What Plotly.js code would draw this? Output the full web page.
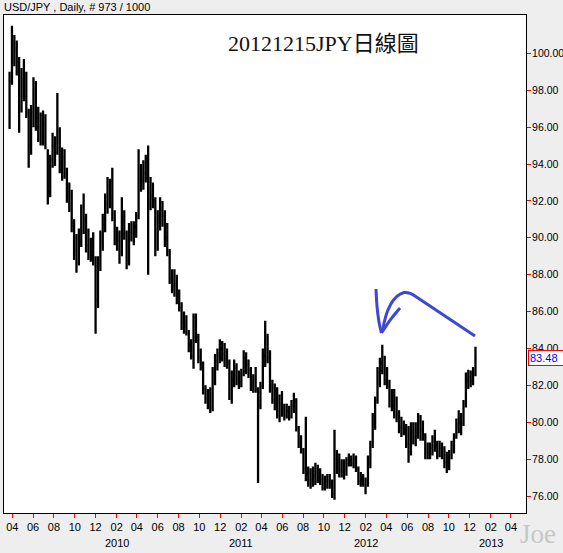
<!DOCTYPE html>
<html>
<head>
<meta charset="utf-8">
<script src="https://cdn.plot.ly/plotly-3.0.1.min.js"></script>
<style>
html,body{margin:0;padding:0;background:#eeeeee;}
#chart{width:563px;height:553px;}
</style>
</head>
<body>
<div id="chart"></div>
<script>
// Weekly OHLC readings of USD/JPY
var dates = [
'2009-03-24','2009-03-31','2009-04-07','2009-04-14','2009-04-21','2009-04-28','2009-05-05','2009-05-12','2009-05-19','2009-05-26',
'2009-06-02','2009-06-09','2009-06-16','2009-06-23','2009-06-30','2009-07-07','2009-07-14','2009-07-21','2009-07-28','2009-08-04',
'2009-08-11','2009-08-18','2009-08-25','2009-09-01','2009-09-08','2009-09-15','2009-09-22','2009-09-29','2009-10-06','2009-10-13',
'2009-10-20','2009-10-27','2009-11-03','2009-11-10','2009-11-17','2009-11-24','2009-12-01','2009-12-08','2009-12-15','2009-12-22',
'2009-12-29','2010-01-05','2010-01-12','2010-01-19','2010-01-26','2010-02-02','2010-02-09','2010-02-16','2010-02-23','2010-03-02',
'2010-03-09','2010-03-16','2010-03-23','2010-03-30','2010-04-06','2010-04-13','2010-04-20','2010-04-27','2010-05-04','2010-05-11',
'2010-05-18','2010-05-25','2010-06-01','2010-06-08','2010-06-15','2010-06-22','2010-06-29','2010-07-06','2010-07-13','2010-07-20',
'2010-07-27','2010-08-03','2010-08-10','2010-08-17','2010-08-24','2010-08-31','2010-09-07','2010-09-14','2010-09-21','2010-09-28',
'2010-10-05','2010-10-12','2010-10-19','2010-10-26','2010-11-02','2010-11-09','2010-11-16','2010-11-23','2010-11-30','2010-12-07',
'2010-12-14','2010-12-21','2010-12-28','2011-01-04','2011-01-11','2011-01-18','2011-01-25','2011-02-01','2011-02-08','2011-02-15',
'2011-02-22','2011-03-01','2011-03-08','2011-03-15','2011-03-22','2011-03-29','2011-04-05','2011-04-12','2011-04-19','2011-04-26',
'2011-05-03','2011-05-10','2011-05-17','2011-05-24','2011-05-31','2011-06-07','2011-06-14','2011-06-21','2011-06-28','2011-07-05',
'2011-07-12','2011-07-19','2011-07-26','2011-08-02','2011-08-09','2011-08-16','2011-08-23','2011-08-30','2011-09-06','2011-09-13',
'2011-09-20','2011-09-27','2011-10-04','2011-10-11','2011-10-18','2011-10-25','2011-11-01','2011-11-08','2011-11-15','2011-11-22',
'2011-11-29','2011-12-06','2011-12-13','2011-12-20','2011-12-27','2012-01-03','2012-01-10','2012-01-17','2012-01-24','2012-01-31',
'2012-02-07','2012-02-14','2012-02-21','2012-02-28','2012-03-06','2012-03-13','2012-03-20','2012-03-27','2012-04-03','2012-04-10',
'2012-04-17','2012-04-24','2012-05-01','2012-05-08','2012-05-15','2012-05-22','2012-05-29','2012-06-05','2012-06-12','2012-06-19',
'2012-06-26','2012-07-03','2012-07-10','2012-07-17','2012-07-24','2012-07-31','2012-08-07','2012-08-14','2012-08-21','2012-08-28',
'2012-09-04','2012-09-11','2012-09-18','2012-09-25','2012-10-02','2012-10-09','2012-10-16','2012-10-23','2012-10-30','2012-11-06',
'2012-11-13','2012-11-20','2012-11-27','2012-12-04','2012-12-11','2012-12-18'];

var openV = [96.5,98.5,100.5,100.2,99.5,97.0,98.5,98.0,96.8,95.0,
96.8,97.8,96.5,96.0,95.5,96.2,94.6,92.5,94.2,95.0,
94.6,95.8,94.0,94.3,93.5,92.3,91.8,90.8,89.3,88.9,
89.8,91.2,91.0,89.6,89.2,89.0,88.8,86.6,88.6,89.8,
90.7,91.8,92.8,92.2,91.3,90.0,89.8,89.2,91.0,90.3,
88.8,90.3,90.2,90.6,91.2,93.2,93.1,93.5,94.3,91.8,
92.3,92.0,89.8,91.0,91.5,91.2,90.0,89.3,87.8,87.4,
87.5,86.8,86.2,85.4,85.2,84.9,84.2,83.6,85.7,84.6,
83.5,83.2,81.8,81.3,81.4,80.8,82.6,83.3,83.6,84.0,
83.7,83.5,83.2,81.8,82.3,83.0,82.4,82.2,82.6,83.5,
83.1,82.8,82.0,82.4,81.8,80.9,81.9,83.6,84.6,83.5,
82.0,81.2,81.7,80.6,81.0,80.8,80.4,80.6,80.3,80.9,
81.2,79.7,78.9,78.5,77.5,77.2,76.8,76.9,77.1,77.3,
77.0,76.9,76.6,76.8,76.9,76.7,76.2,78.0,77.8,77.4,
77.3,77.6,77.8,77.9,77.8,78.0,77.5,76.8,76.9,76.7,
76.6,77.8,78.8,79.9,81.2,82.7,83.2,83.0,82.3,82.0,
81.2,80.9,81.2,80.4,79.7,79.8,79.5,78.8,78.4,79.5,
79.2,79.4,80.0,79.6,79.3,78.4,78.3,78.6,79.0,78.7,
78.3,78.6,78.2,77.8,77.9,78.2,78.8,79.2,79.9,80.2,
79.9,81.0,82.3,82.5,82.2,82.6];

var highV = [99.0,101.5,101.0,100.7,99.8,99.2,99.7,99.0,97.0,97.2,
98.7,98.5,97.1,96.8,96.9,96.7,94.8,94.5,95.7,95.5,
97.85,96.0,94.9,94.8,93.8,93.0,92.6,91.0,90.2,90.5,
91.8,92.4,91.3,90.5,90.0,90.3,89.0,89.0,90.4,91.3,
92.4,93.3,93.2,93.8,91.5,90.6,90.4,92.2,91.5,90.4,
90.8,90.9,90.9,91.4,94.8,94.0,94.2,94.5,95.0,93.3,
93.0,92.2,91.5,92.2,92.0,91.5,90.8,89.4,88.3,88.3,
88.0,87.2,86.5,86.0,85.8,85.0,84.5,85.9,85.9,84.8,
84.0,83.3,82.0,81.8,81.9,83.0,83.7,84.0,84.5,84.4,
84.3,84.0,83.4,82.8,83.4,83.2,82.8,82.9,83.9,83.8,
83.4,83.0,82.6,83.0,81.9,82.2,84.0,85.5,84.8,83.9,
82.3,82.1,81.9,81.5,81.7,81.0,81.0,80.9,81.2,81.6,
81.3,79.8,79.3,78.6,80.3,77.6,77.5,77.6,77.8,77.7,
77.5,77.2,77.1,77.2,77.2,76.9,79.6,78.5,78.3,78.0,
78.0,78.1,78.3,78.2,78.3,78.2,77.6,77.3,77.2,77.0,
78.2,79.0,80.5,81.4,83.0,83.5,84.2,83.6,83.0,82.3,
81.8,81.8,81.4,80.65,80.3,80.1,79.9,79.8,80.0,80.0,
80.0,80.5,80.4,80.1,79.4,78.9,78.9,79.3,79.6,79.0,
79.0,78.9,78.7,78.4,78.5,79.0,79.4,80.2,80.65,80.5,
81.2,82.7,82.85,82.8,83.0,84.1];

var lowV = [95.9,98.3,99.3,98.8,95.7,96.8,97.4,96.5,93.8,94.5,
96.0,95.8,95.2,95.0,95.0,94.8,91.8,92.2,93.8,93.9,
94.5,93.5,93.1,93.2,91.9,91.4,90.3,88.8,88.1,88.5,
89.5,90.2,89.2,88.8,88.7,88.5,84.8,86.2,88.2,89.3,
90.3,91.3,91.6,90.9,89.6,89.3,88.6,89.0,89.9,88.3,
88.5,89.8,89.6,90.0,91.0,92.5,92.6,93.0,88.0,91.5,
91.6,89.0,89.3,90.4,90.6,89.5,89.0,87.5,87.0,86.8,
86.4,86.0,85.0,84.8,84.7,83.8,83.4,82.9,84.3,83.2,
82.8,81.5,81.0,80.7,80.5,80.6,82.0,82.8,83.2,83.3,
83.0,82.9,81.2,81.0,81.9,82.0,81.8,81.9,82.5,82.6,
82.4,81.7,81.6,81.6,76.7,80.7,81.8,83.0,83.2,81.6,
81.0,80.65,80.2,80.0,80.3,80.1,80.2,80.1,80.2,80.5,
79.5,78.6,78.3,77.2,76.8,76.5,76.4,76.5,76.6,76.7,
76.6,76.3,76.3,76.4,76.4,75.9,75.8,77.2,77.0,77.0,
76.9,77.1,77.6,77.6,77.5,77.3,76.6,76.5,76.5,76.1,
76.5,77.5,78.6,79.6,81.0,81.9,82.6,82.0,81.8,80.8,
80.6,80.2,80.0,79.4,79.2,79.3,78.6,77.8,78.2,78.8,
78.7,79.1,79.0,79.0,78.0,78.0,78.0,78.2,78.4,78.0,
78.1,78.0,77.5,77.25,77.4,78.0,78.3,79.1,79.4,79.3,
79.8,80.8,81.8,81.9,82.0,82.5];

var closeV = [98.5,100.5,100.2,99.5,97.0,98.5,98.0,96.8,95.0,96.8,
97.8,96.5,96.0,95.5,96.2,94.9,92.5,94.2,95.0,94.6,
95.8,94.0,94.3,93.5,92.3,91.8,90.8,89.3,88.9,89.8,
91.2,91.0,89.6,89.2,89.0,88.8,86.6,88.6,89.8,90.7,
91.8,92.8,92.2,91.3,90.0,89.8,89.2,91.0,90.3,88.8,
90.3,90.2,90.6,91.2,93.2,93.1,93.5,94.3,91.8,92.3,
92.0,89.8,91.0,91.5,91.2,90.0,89.3,87.8,87.4,87.5,
86.8,86.2,85.4,85.2,84.9,84.2,83.6,85.7,84.6,83.5,
83.2,81.8,81.3,81.4,80.8,82.6,83.3,83.6,84.0,83.7,
83.5,83.2,81.8,82.3,83.0,82.4,82.2,82.6,83.5,83.1,
82.8,82.0,82.4,81.8,80.9,81.9,83.6,84.6,83.5,82.0,
81.2,81.7,80.6,81.0,80.8,80.4,80.6,80.3,80.9,81.2,
79.7,78.9,78.5,77.5,77.2,76.8,76.9,77.1,77.3,77.0,
76.9,76.6,76.8,76.9,76.7,76.1,78.0,77.8,77.4,77.3,
77.6,77.8,77.9,77.8,78.0,77.5,76.8,76.9,76.7,76.6,
77.8,78.8,79.9,81.2,82.7,83.2,83.0,82.3,82.0,81.2,
80.9,81.2,80.4,79.7,79.8,79.5,78.8,78.4,79.5,79.2,
79.4,80.0,79.6,79.3,78.4,78.3,78.6,79.0,78.7,78.3,
78.6,78.2,77.8,77.9,78.2,78.8,79.2,79.9,80.2,79.9,
81.0,82.3,82.5,82.2,82.6,83.48];

var lastPrice = 83.48;

var xTickVals = ['2009-04-01','2009-06-01','2009-08-01','2009-10-01','2009-12-01',
'2010-02-01','2010-04-01','2010-06-01','2010-08-01','2010-10-01','2010-12-01',
'2011-02-01','2011-04-01','2011-06-01','2011-08-01','2011-10-01','2011-12-01',
'2012-02-01','2012-04-01','2012-06-01','2012-08-01','2012-10-01','2012-12-01',
'2013-02-01','2013-04-01'];
var xTickText = ['04','06','08','10','12','02','04','06','08','10','12','02','04','06','08','10','12',
'02','04','06','08','10','12','02','04'];
var yearLabels = ['2010','2011','2012','2013'];
var yearPos = ['2010-02-01','2011-02-01','2012-02-01','2013-02-01'];
var yTickVals = [76,78,80,82,84,86,88,90,92,94,96,98,100];

// layout geometry (pixels)
var W = 563, H = 553, L = 4, R = 37, T = 15, B = 40;
var PW = W - L - R, PH = H - T - B;
function px(x, y) { return ((x - L) / PW).toFixed(5) + ',' + ((H - B - y) / PH).toFixed(5); }

var arrowPaths = [
  'M' + px(376, 289) + ' Q' + px(377, 318) + ' ' + px(381.5, 333),
  'M' + px(381.5, 333) + ' Q' + px(390, 319) + ' ' + px(400, 308),
  'M' + px(382.5, 331) + ' Q' + px(388, 297) + ' ' + px(404, 292.5) + ' Q' + px(410, 292) + ' ' + px(415, 296) + ' L' + px(475, 336)
];

var shapes = arrowPaths.map(function (p) {
  return { type: 'path', xref: 'paper', yref: 'paper', path: p, line: { color: '#4048d0', width: 3 } };
});

var baseFont = { family: 'Liberation Sans, Arial, sans-serif', size: 11, color: '#000' };

var annotations = [
  { xref: 'paper', yref: 'paper', x: (2 - L) / PW, y: (H - B - 6.5) / PH, xanchor: 'left', yanchor: 'middle',
    text: 'USD/JPY , Daily, # 973 / 1000', showarrow: false, font: baseFont },
  { xref: 'paper', yref: 'paper', x: (323.3 - L) / PW, y: (H - B - 43.5) / PH, xanchor: 'center', yanchor: 'middle',
    text: '20121215JPY日線圖', showarrow: false,
    font: { family: 'Liberation Serif, "Noto Sans CJK TC", serif', size: 22, color: '#111' } },
  { xref: 'paper', yref: 'paper', x: (538.3 - L) / PW, y: (H - B - 534) / PH, xanchor: 'center', yanchor: 'middle',
    text: 'Joe', showarrow: false, font: { family: 'Liberation Serif, serif', size: 27, color: '#c6c6c6' } },
  { xref: 'paper', yref: 'y', x: 1, xshift: 2, y: lastPrice, xanchor: 'left', yanchor: 'middle',
    text: lastPrice.toFixed(2), showarrow: false, bgcolor: '#ffffff', bordercolor: '#ff0000', borderwidth: 1, borderpad: 1,
    width: 40, align: 'left', font: { family: baseFont.family, size: 11, color: '#0000ee' } }
];
yearLabels.forEach(function (t, i) {
  annotations.push({ xref: 'x', yref: 'paper', x: yearPos[i], y: (H - B - 542.5) / PH, xanchor: 'center', yanchor: 'middle',
    text: t, showarrow: false, font: baseFont });
});

var trace = {
  type: 'ohlc', x: dates, open: openV, high: highV, low: lowV, close: closeV,
  increasing: { line: { color: '#000', width: 2.3 } },
  decreasing: { line: { color: '#000', width: 2.3 } },
  tickwidth: 0.5, hoverinfo: 'skip', showlegend: false
};

var layout = {
  width: W, height: H,
  margin: { l: L, r: R, t: T, b: B, pad: 0 },
  paper_bgcolor: '#eeeeee', plot_bgcolor: '#ffffff',
  font: baseFont,
  showlegend: false,
  xaxis: {
    type: 'date', range: ['2009-03-07 16:00', '2013-05-15 02:00'],
    rangeslider: { visible: false },
    tickmode: 'array', tickvals: xTickVals, ticktext: xTickText,
    ticks: 'outside', ticklen: 4, tickwidth: 1, tickcolor: '#ff0000',
    showgrid: false, zeroline: false, showline: true, mirror: true, linecolor: '#000', linewidth: 1,
    tickfont: baseFont, fixedrange: true
  },
  yaxis: {
    side: 'right', range: [75.08, 102.08],
    tickmode: 'array', tickvals: yTickVals, tickformat: '.2f',
    ticks: 'outside', ticklen: 4, tickwidth: 1, tickcolor: '#ff0000',
    ticklabelstandoff: -1,
    showgrid: false, zeroline: false, showline: true, mirror: true, linecolor: '#000', linewidth: 1,
    tickfont: { family: baseFont.family, size: 10.5, color: '#000' }, fixedrange: true
  },
  shapes: shapes,
  annotations: annotations
};

Plotly.newPlot('chart', [trace], layout, { staticPlot: true, displayModeBar: false });
</script>
</body>
</html>
